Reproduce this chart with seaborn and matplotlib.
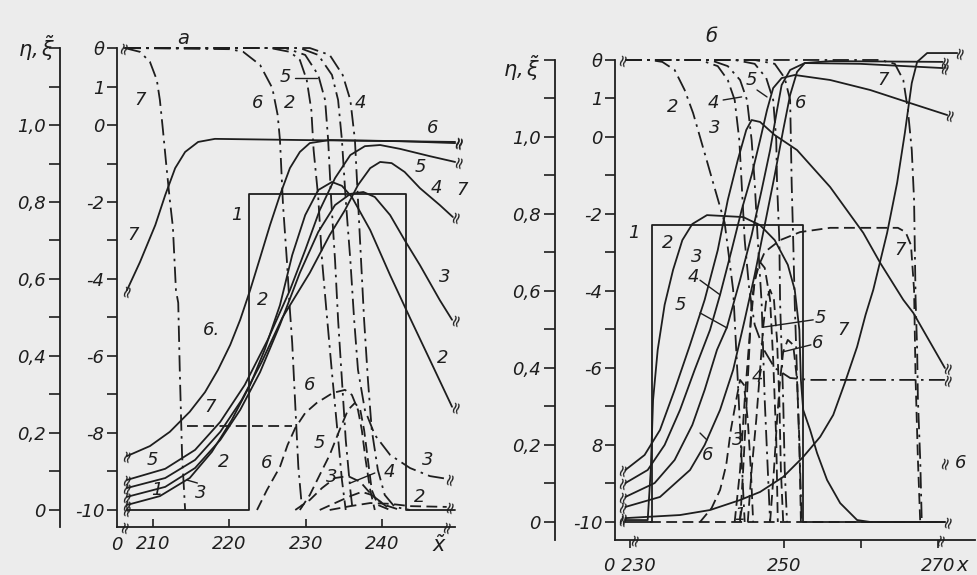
import matplotlib
matplotlib.use("Agg")
import matplotlib.pyplot as plt
import seaborn as sns

INK = "#1e1e1e"
PAPER = "#ececec"

# ---------------- panel a (left) ----------------
# theta curves (dash-dot), drawn on the eta scale (theta = 10*eta - 10)
a_t7_x = [206.3, 208.3, 209.6, 210.5, 210.9, 211.3, 211.7, 212.2, 212.6, 213.0, 213.3, 213.5, 213.8, 214.2]
a_t7_y = [1.20, 1.19, 1.164, 1.117, 1.065, 0.987, 0.904, 0.805, 0.735, 0.571, 0.538, 0.364, 0.143, 0.0]
a_t6_x = [206.3, 220.1, 221.8, 224.0, 225.6, 226.3, 226.6, 227.0, 227.5, 227.9, 228.2, 228.6, 229.0, 229.5]
a_t6_y = [1.20, 1.197, 1.19, 1.156, 1.096, 1.026, 0.961, 0.792, 0.649, 0.519, 0.434, 0.273, 0.112, 0.0]
a_t2_x = [206.3, 225.3, 227.9, 229.2, 230.1, 230.7, 231.0, 231.6, 232.1, 232.7, 233.4, 234.1, 234.7, 235.2]
a_t2_y = [1.20, 1.20, 1.19, 1.169, 1.117, 1.039, 0.935, 0.813, 0.649, 0.512, 0.356, 0.208, 0.078, 0.0]
a_t5_x = [206.3, 227.3, 229.9, 231.6, 232.5, 232.9, 233.3, 233.8, 234.2, 234.7, 235.2, 235.8, 236.1]
a_t5_y = [1.20, 1.20, 1.182, 1.13, 1.065, 0.961, 0.805, 0.649, 0.494, 0.338, 0.182, 0.052, 0.0]
a_t3_x = [206.3, 229.2, 231.6, 233.4, 234.2, 234.7, 235.2, 235.8, 236.3, 236.8, 237.7, 239.0, 241.0, 243.6, 246.2, 248.4]
a_t3_y = [1.20, 1.20, 1.182, 1.13, 1.065, 0.961, 0.805, 0.649, 0.494, 0.364, 0.26, 0.195, 0.143, 0.109, 0.088, 0.081]
a_t4_x = [206.3, 230.5, 233.1, 234.8, 235.8, 236.4, 236.8, 237.2, 237.6, 238.1, 238.6, 239.4, 240.3, 241.6, 243.6]
a_t4_y = [1.20, 1.20, 1.182, 1.13, 1.065, 0.961, 0.805, 0.649, 0.494, 0.338, 0.208, 0.104, 0.039, 0.008, 0.0]

# eta curves (solid)
a_e1_x = [206.6, 222.5, 222.5, 243.1, 243.1, 249.5]
a_e1_y = [0.0, 0.0, 0.821, 0.821, 0.0, 0.0]
a_e2_x = [206.6, 210.9, 214.8, 217.7, 220.3, 222.7, 224.6, 226.6, 228.2, 229.9, 231.6, 233.4, 234.7, 236.0, 238.4, 241.0, 243.6, 246.2, 249.1]
a_e2_y = [0.013, 0.036, 0.083, 0.151, 0.234, 0.325, 0.416, 0.532, 0.662, 0.766, 0.831, 0.852, 0.842, 0.813, 0.727, 0.61, 0.499, 0.39, 0.268]
a_e3_x = [206.6, 211.6, 215.5, 218.8, 221.4, 224.0, 226.6, 229.2, 231.6, 233.8, 235.8, 237.5, 239.0, 241.0, 242.9, 244.9, 247.5, 249.1]
a_e3_y = [0.034, 0.06, 0.109, 0.182, 0.26, 0.358, 0.481, 0.616, 0.722, 0.792, 0.821, 0.826, 0.813, 0.766, 0.701, 0.636, 0.545, 0.494]
a_e4_x = [206.6, 211.6, 215.5, 218.8, 221.6, 224.2, 226.9, 230.5, 233.1, 235.1, 236.8, 238.4, 239.7, 241.2, 242.9, 244.9, 247.5, 249.2]
a_e4_y = [0.057, 0.083, 0.13, 0.203, 0.286, 0.384, 0.499, 0.616, 0.714, 0.779, 0.844, 0.888, 0.904, 0.901, 0.878, 0.836, 0.792, 0.761]
a_e5_x = [206.6, 211.6, 215.5, 218.8, 222.0, 225.0, 227.9, 229.9, 231.8, 233.8, 235.8, 237.7, 239.7, 242.3, 246.2, 249.5]
a_e5_y = [0.078, 0.107, 0.156, 0.229, 0.325, 0.442, 0.571, 0.675, 0.779, 0.862, 0.922, 0.945, 0.948, 0.938, 0.919, 0.904]
a_e6_x = [206.6, 209.6, 212.2, 214.8, 216.8, 218.5, 220.1, 221.4, 222.7, 224.0, 225.3, 226.6, 227.9, 229.2, 230.5, 233.1, 242.3, 249.5]
a_e6_y = [0.14, 0.166, 0.203, 0.255, 0.306, 0.364, 0.429, 0.494, 0.571, 0.655, 0.74, 0.818, 0.888, 0.93, 0.953, 0.961, 0.958, 0.953]
a_e7_x = [206.6, 208.3, 210.3, 211.6, 212.9, 214.2, 215.9, 218.1, 229.2, 242.3, 249.5]
a_e7_y = [0.571, 0.644, 0.74, 0.818, 0.888, 0.93, 0.956, 0.964, 0.961, 0.958, 0.956]

# xi curves (dashed)
a_x2_x = [233.1, 235.8, 238.4, 241.0, 243.6, 248.4]
a_x2_y = [0.0, 0.01, 0.018, 0.016, 0.01, 0.008]
a_x3_x = [228.6, 230.5, 232.1, 233.8, 235.5, 237.1, 238.6, 240.3, 242.3]
a_x3_y = [0.0, 0.026, 0.057, 0.083, 0.088, 0.073, 0.039, 0.013, 0.0]
a_x4_x = [231.8, 233.8, 235.8, 237.3, 238.6, 239.9, 241.2]
a_x4_y = [0.0, 0.018, 0.036, 0.047, 0.039, 0.018, 0.0]
a_x5_x = [229.2, 230.5, 231.8, 233.1, 234.4, 235.5, 236.4, 237.1, 237.6, 238.1, 238.6, 239.4, 241.0]
a_x5_y = [0.0, 0.039, 0.091, 0.143, 0.208, 0.26, 0.278, 0.26, 0.208, 0.13, 0.052, 0.013, 0.0]
a_x6_x = [223.6, 224.9, 226.6, 227.6, 228.6, 229.9, 231.4, 233.5, 235.1, 236.0, 236.8, 237.3, 237.8, 238.4, 239.0]
a_x6_y = [0.0, 0.052, 0.112, 0.169, 0.213, 0.252, 0.278, 0.304, 0.312, 0.299, 0.26, 0.208, 0.13, 0.052, 0.0]
a_x7_x = [214.4, 221.0, 228.2]
a_x7_y = [0.218, 0.218, 0.218]

# ---------------- panel b (right) ----------------
b_t2_x = [229.4, 232.6, 234.2, 235.8, 237.1, 238.2, 239.7, 240.8, 242.3, 243.4, 244.0, 244.5, 244.9]
b_t2_y = [1.20, 1.20, 1.195, 1.174, 1.122, 1.062, 0.958, 0.881, 0.777, 0.603, 0.369, 0.161, 0.0]
b_t3_x = [229.4, 240.4, 242.7, 244.3, 245.2, 245.8, 246.2, 246.6, 247.1, 247.5, 247.9, 248.2]
b_t3_y = [1.20, 1.20, 1.184, 1.148, 1.096, 0.992, 0.881, 0.732, 0.569, 0.317, 0.135, 0.0]
b_t4_x = [229.4, 239.1, 241.4, 242.7, 243.6, 244.2, 244.5, 244.9, 245.5, 246.2, 247.4, 248.8, 250.8, 253.4, 270.9]
b_t4_y = [1.20, 1.20, 1.184, 1.148, 1.096, 0.992, 0.881, 0.732, 0.603, 0.512, 0.447, 0.40, 0.374, 0.369, 0.369]
b_t5_x = [229.4, 243.6, 246.2, 247.7, 248.6, 249.0, 249.1, 249.4, 249.5, 249.9, 250.1, 250.4]
b_t5_y = [1.20, 1.20, 1.19, 1.153, 1.096, 0.992, 0.881, 0.732, 0.569, 0.317, 0.135, 0.0]
b_t6_x = [229.4, 246.2, 248.8, 250.1, 250.8, 250.9, 251.0, 251.2, 251.4, 251.8, 252.1, 252.3]
b_t6_y = [1.20, 1.20, 1.19, 1.153, 1.096, 0.992, 0.881, 0.732, 0.569, 0.317, 0.135, 0.0]
b_t7_x = [229.4, 262.5, 264.4, 265.5, 266.1, 266.6, 266.9, 267.0, 267.1, 267.3, 267.4, 267.7, 267.9]
b_t7_y = [1.20, 1.20, 1.19, 1.148, 1.07, 0.966, 0.836, 0.706, 0.577, 0.447, 0.317, 0.161, 0.0]

b_e1_x = [229.4, 232.9, 232.9, 252.5, 252.5, 270.9]
b_e1_y = [0.0, 0.0, 0.771, 0.771, 0.0, 0.0]
b_e2_x = [229.4, 232.3, 232.7, 233.0, 233.6, 234.5, 235.6, 236.8, 238.1, 240.0, 244.7, 246.9, 248.8, 250.5, 251.4,
          252.0, 252.2, 252.5, 253.4, 254.3, 255.6, 257.3, 259.5, 261.2, 270.9]
b_e2_y = [0.005, 0.005, 0.135, 0.317, 0.447, 0.564, 0.655, 0.732, 0.774, 0.797, 0.792, 0.771, 0.732, 0.668, 0.603,
          0.499, 0.369, 0.291, 0.239, 0.179, 0.109, 0.049, 0.005, 0.0, 0.0]
b_e3_x = [229.4, 231.9, 233.9, 235.8, 237.8, 239.7, 241.4, 242.7, 244.0, 245.1, 245.8, 246.9, 248.8, 251.7, 256.0,
          260.3, 262.5, 265.5, 266.8, 270.9]
b_e3_y = [0.135, 0.174, 0.239, 0.343, 0.46, 0.577, 0.706, 0.836, 0.94, 1.018, 1.044, 1.039, 1.005, 0.966, 0.87,
          0.751, 0.673, 0.577, 0.543, 0.40]
b_e4_x = [229.4, 232.3, 234.5, 236.5, 238.4, 240.4, 241.7, 243.2, 244.5, 245.8, 246.9, 247.8, 248.6, 249.7, 251.4,
          256.0, 261.2, 266.4, 271.2]
b_e4_y = [0.101, 0.135, 0.2, 0.291, 0.395, 0.499, 0.59, 0.706, 0.81, 0.901, 0.992, 1.07, 1.127, 1.153, 1.161,
          1.148, 1.122, 1.088, 1.057]
b_e5_x = [229.4, 233.2, 235.8, 238.1, 239.7, 241.3, 242.6, 244.3, 245.8, 247.1, 248.2, 249.1, 249.7, 250.8, 252.7,
          259.9, 270.6]
b_e5_y = [0.065, 0.101, 0.161, 0.252, 0.343, 0.447, 0.506, 0.629, 0.745, 0.862, 0.966, 1.07, 1.135, 1.174, 1.192,
          1.19, 1.179]
b_e6_x = [229.4, 233.9, 237.8, 239.7, 241.7, 243.4, 244.9, 246.2, 247.5, 248.8, 249.9, 250.8, 251.7, 252.7, 256.0, 270.6]
b_e6_y = [0.039, 0.065, 0.135, 0.2, 0.291, 0.395, 0.525, 0.642, 0.771, 0.901, 1.018, 1.109, 1.169, 1.192, 1.197, 1.195]
b_e7_x = [229.4, 236.5, 240.4, 244.3, 246.9, 249.9, 252.5, 254.7, 256.4, 257.9, 259.5, 260.6, 261.6, 263.4, 264.7,
          265.7, 266.6, 267.3, 268.6, 272.5]
b_e7_y = [0.01, 0.018, 0.031, 0.057, 0.078, 0.117, 0.169, 0.221, 0.278, 0.361, 0.455, 0.538, 0.603, 0.751, 0.881,
          1.01, 1.14, 1.195, 1.218, 1.218]

b_x1_x = [232.6, 270.9]
b_x1_y = [0.0, 0.0]
b_x3_x = [239.1, 240.6, 241.7, 242.5, 243.1, 243.8, 244.3, 244.8, 245.3, 245.7, 246.0]
b_x3_y = [0.0, 0.036, 0.083, 0.148, 0.239, 0.317, 0.369, 0.356, 0.265, 0.135, 0.0]
b_x4_x = [243.6, 244.3, 244.9, 245.6, 246.2, 246.9, 247.5, 248.2, 248.6, 249.0, 249.2]
b_x4_y = [0.0, 0.135, 0.317, 0.499, 0.629, 0.675, 0.66, 0.577, 0.421, 0.213, 0.0]
b_x5_x = [245.3, 245.8, 246.4, 246.9, 247.3, 247.7, 248.2, 248.7, 249.1, 249.4, 249.6, 249.9]
b_x5_y = [0.0, 0.135, 0.265, 0.395, 0.506, 0.577, 0.603, 0.577, 0.473, 0.317, 0.135, 0.0]
b_x6_x = [248.2, 248.7, 249.1, 249.5, 249.9, 250.5, 251.2, 251.7, 252.0, 252.2]
b_x6_y = [0.0, 0.135, 0.265, 0.369, 0.442, 0.473, 0.46, 0.369, 0.213, 0.0]
b_x7_x = [244.3, 244.7, 245.1, 245.5, 245.8, 246.5, 247.5, 249.5, 252.1, 256.0, 264.8, 265.8, 266.5, 266.9, 267.1, 267.4, 267.7]
b_x7_y = [0.0, 0.135, 0.291, 0.447, 0.577, 0.655, 0.701, 0.732, 0.753, 0.764, 0.764, 0.753, 0.719, 0.603, 0.369, 0.161, 0.0]

# axis ticks / labels
eta_major = [0.0, 0.2, 0.4, 0.6, 0.8, 1.0, 1.2]
eta_labels = ["0", "0,2", "0,4", "0,6", "0,8", "1,0", ""]
eta_minor = [0.1, 0.3, 0.5, 0.7, 0.9, 1.1]
theta_major = [0.0, 0.2, 0.4, 0.6, 0.8, 1.0, 1.1, 1.2]
theta_labels_a = ["-10", "-8", "-6", "-4", "-2", "0", "1", "θ"]
theta_labels_b = ["-10", "8", "-6", "-4", "-2", "0", "1", "θ"]
theta_minor = [0.1, 0.3, 0.5, 0.7, 0.9]
a_xticks = [210, 220, 230, 240]
b_xticks = [230, 250, 260, 270]
b_xticklabels = ["0 230", "250", "", "270"]

# curve numbers written next to the lines (text, x, eta)
a_notes = [("7", 208.3, 1.065), ("7", 207.4, 0.714), ("6", 223.7, 1.057), ("2", 227.9, 1.057),
           ("5", 227.3, 1.125), ("4", 237.1, 1.057), ("6", 246.6, 0.992), ("5", 244.9, 0.891),
           ("4", 247.1, 0.836), ("7", 250.4, 0.831), ("3", 248.2, 0.605), ("2", 247.9, 0.395),
           ("1", 221.0, 0.766), ("2", 224.4, 0.545), ("6.", 217.7, 0.468), ("7", 217.5, 0.268),
           ("5", 209.9, 0.13), ("1", 210.5, 0.052), ("3", 216.3, 0.044), ("2", 219.2, 0.125),
           ("6", 230.5, 0.325), ("6", 224.9, 0.122), ("5", 231.8, 0.174), ("3", 233.4, 0.086),
           ("4", 240.9, 0.099), ("3", 245.9, 0.13), ("2", 244.9, 0.034)]
a_leaders = [((228.6, 231.4), (1.122, 1.122)), ((215.8, 214.4), (0.07, 0.078)), ((239.0, 235.8), (0.096, 0.07))]
b_notes = [("2", 235.6, 1.078), ("4", 240.8, 1.088), ("3", 241.0, 1.023), ("5", 245.8, 1.148),
           ("6", 252.1, 1.088), ("7", 262.9, 1.148), ("7", 265.1, 0.706), ("1", 230.5, 0.751),
           ("2", 234.9, 0.725), ("3", 238.7, 0.688), ("4", 238.2, 0.636), ("5", 236.5, 0.564),
           ("6", 240.1, 0.174), ("4", 246.5, 0.377), ("3", 244.0, 0.213), ("1", 244.3, 0.018),
           ("5", 254.7, 0.53), ("6", 254.4, 0.465), ("7", 257.7, 0.499), ("6", 272.9, 0.153)]
b_leaders = [((242.1, 244.5), (1.096, 1.104)), ((246.5, 247.8), (1.122, 1.104)), ((239.1, 241.7), (0.628, 0.59)),
             ((239.1, 242.6), (0.543, 0.504)), ((240.0, 239.1), (0.213, 0.231)), ((247.3, 253.8), (0.506, 0.525)),
             ((249.9, 253.5), (0.442, 0.46))]

sns.set_theme(style="white")
plt.rcParams["font.family"] = ["DejaVu Sans"]
plt.rcParams["font.style"] = "italic"
plt.rcParams["mathtext.fontset"] = "dejavusans"

STYLES = {"solid": "-", "dashdot": (0, (9, 3, 1.4, 3)), "dashed": (0, (6, 3))}


def curve(ax, xs, ys, kind):
    sns.lineplot(x=xs, y=ys, ax=ax, estimator=None, sort=False, color=INK,
                 linewidth=1.3, linestyle=STYLES[kind], clip_on=False)


def brk(ax, x, y):
    # little "//" break sign used in the original at the cut ends of curves
    ax.text(x, y, "≈", rotation=75, ha="center", va="center", fontsize=12,
            fontstyle="normal", color=INK, clip_on=False)


def frame(ax, xlim, ylim, theta_labels, outer_loc, xticks, xticklabels, xdir):
    ax.set_facecolor("none")
    ax.set_xlim(*xlim)
    ax.set_ylim(*ylim)
    for s in ["top", "right"]:
        ax.spines[s].set_visible(False)
    for s in ["left", "bottom"]:
        ax.spines[s].set_linewidth(1.3)
        ax.spines[s].set_color(INK)
    ax.set_yticks(theta_major, theta_labels)
    ax.set_yticks(theta_minor, minor=True)
    ax.tick_params(axis="y", which="both", direction="out", length=7, width=1.2,
                   labelsize=13, colors=INK, pad=2, left=True)
    ax.set_xticks(xticks, xticklabels)
    ax.tick_params(axis="x", direction=xdir, length=6, width=1.2, labelsize=13,
                   colors=INK, pad=6, bottom=True)

    sec = ax.secondary_yaxis(outer_loc)
    sec.set_yticks(eta_major, eta_labels)
    sec.set_yticks(eta_minor, minor=True)
    sec.spines["left"].set_linewidth(1.3)
    sec.spines["left"].set_color(INK)
    sec.tick_params(axis="y", which="both", direction="out", length=8, width=1.2,
                    labelsize=13, colors=INK, pad=2)


fig = plt.figure(figsize=(9.78, 5.75), dpi=100)
fig.patch.set_facecolor(PAPER)

# ---------- panel a ----------
ax = fig.add_axes([0.1196, 0.0835, 0.3456, 0.8330])
for xs, ys in [(a_t7_x, a_t7_y), (a_t6_x, a_t6_y), (a_t2_x, a_t2_y), (a_t5_x, a_t5_y),
               (a_t3_x, a_t3_y), (a_t4_x, a_t4_y)]:
    curve(ax, xs, ys, "dashdot")
for xs, ys in [(a_e1_x, a_e1_y), (a_e2_x, a_e2_y), (a_e3_x, a_e3_y), (a_e4_x, a_e4_y),
               (a_e5_x, a_e5_y), (a_e6_x, a_e6_y), (a_e7_x, a_e7_y)]:
    curve(ax, xs, ys, "solid")
for xs, ys in [(a_x2_x, a_x2_y), (a_x3_x, a_x3_y), (a_x4_x, a_x4_y), (a_x5_x, a_x5_y),
               (a_x6_x, a_x6_y), (a_x7_x, a_x7_y)]:
    curve(ax, xs, ys, "dashed")

frame(ax, (205.29, 249.48), (-0.0442, 1.2), theta_labels_a, -0.169, a_xticks,
      [str(t) for t in a_xticks], "in")

for xs, ys in [(a_e2_x, a_e2_y), (a_e3_x, a_e3_y), (a_e4_x, a_e4_y), (a_e5_x, a_e5_y),
               (a_e6_x, a_e6_y), (a_e7_x, a_e7_y)]:
    brk(ax, xs[0], ys[0])
    brk(ax, xs[-1] + 0.4, ys[-1])
brk(ax, a_t3_x[-1] + 0.4, a_t3_y[-1])
brk(ax, a_x2_x[-1] + 0.4, a_x2_y[-1])
brk(ax, a_t7_x[0] - 0.2, a_t7_y[0])
brk(ax, a_e1_x[0], 0.0)
brk(ax, 206.3, -0.0442)
brk(ax, 248.4, -0.0442)

for txt, x, y in a_notes:
    ax.text(x, y, txt, fontsize=13, color=INK, ha="center", va="center")
for xs, ys in a_leaders:
    ax.plot(xs, ys, color=INK, lw=1.0)
ax.text(213.9, 1.225, "а", fontsize=14, color=INK, ha="center", va="center", clip_on=False)
ax.text(205.29, -0.092, "0", fontsize=13, color=INK, ha="center", va="center", clip_on=False)
ax.text(247.5, -0.092, r"$\tilde{x}$", fontsize=15, color=INK, ha="center", va="center", clip_on=False)
fig.text(0.038, 0.9165, r"$\eta,\tilde{\xi}$", fontsize=15, color=INK, ha="center", va="center")

# ---------- panel b ----------
bx = fig.add_axes([0.6288, 0.0609, 0.3681, 0.8348])
for xs, ys in [(b_t2_x, b_t2_y), (b_t3_x, b_t3_y), (b_t4_x, b_t4_y), (b_t5_x, b_t5_y),
               (b_t6_x, b_t6_y), (b_t7_x, b_t7_y)]:
    curve(bx, xs, ys, "dashdot")
for xs, ys in [(b_e1_x, b_e1_y), (b_e2_x, b_e2_y), (b_e3_x, b_e3_y), (b_e4_x, b_e4_y),
               (b_e5_x, b_e5_y), (b_e6_x, b_e6_y), (b_e7_x, b_e7_y)]:
    curve(bx, xs, ys, "solid")
for xs, ys in [(b_x1_x, b_x1_y), (b_x3_x, b_x3_y), (b_x4_x, b_x4_y), (b_x5_x, b_x5_y),
               (b_x6_x, b_x6_y), (b_x7_x, b_x7_y)]:
    curve(bx, xs, ys, "dashed")

frame(bx, (228.05, 274.81), (-0.0468, 1.2), theta_labels_b, -0.167, b_xticks,
      b_xticklabels, "out")

for xs, ys in [(b_e2_x, b_e2_y), (b_e3_x, b_e3_y), (b_e4_x, b_e4_y), (b_e5_x, b_e5_y),
               (b_e6_x, b_e6_y), (b_e7_x, b_e7_y)]:
    brk(bx, xs[0] - 0.4, ys[0])
for xs, ys in [(b_e3_x, b_e3_y), (b_e4_x, b_e4_y), (b_e5_x, b_e5_y), (b_e6_x, b_e6_y),
               (b_e7_x, b_e7_y), (b_t4_x, b_t4_y), (b_e1_x, b_e1_y)]:
    brk(bx, xs[-1] + 0.3, ys[-1])
brk(bx, b_t2_x[0] - 0.4, b_t2_y[0])
brk(bx, 270.9, 0.153)
brk(bx, 230.6, -0.0468)
brk(bx, 270.3, -0.0468)

for txt, x, y in b_notes:
    bx.text(x, y, txt, fontsize=13, color=INK, ha="center", va="center", clip_on=False)
for xs, ys in b_leaders:
    bx.plot(xs, ys, color=INK, lw=1.0)
bx.text(240.6, 1.26, "б", fontsize=14, color=INK, ha="center", va="center", clip_on=False)
bx.text(273.1, -0.112, "x", fontsize=14, color=INK, ha="center", va="center", clip_on=False)
fig.text(0.534, 0.882, r"$\eta,\tilde{\xi}$", fontsize=15, color=INK, ha="center", va="center")

fig.savefig("out.png", dpi=100, facecolor=fig.get_facecolor())
